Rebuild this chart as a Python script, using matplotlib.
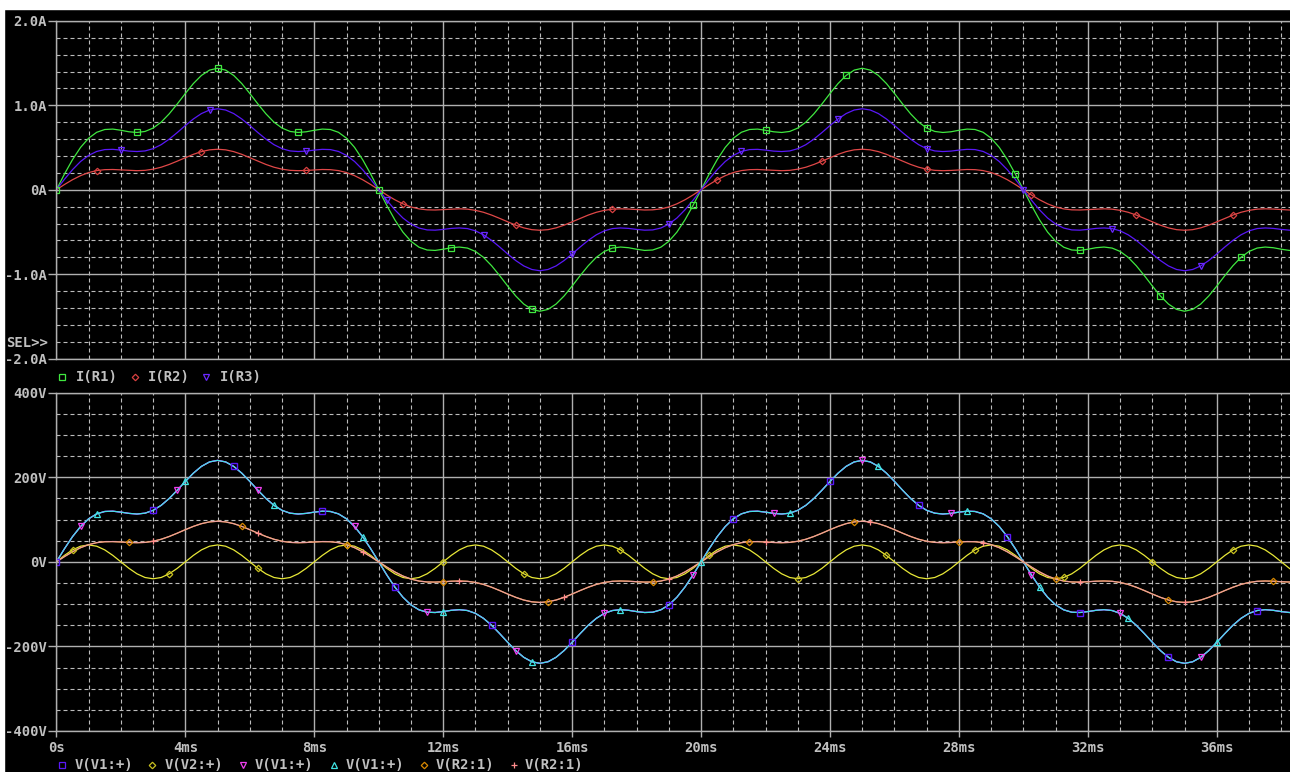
import numpy as np
import matplotlib
matplotlib.use("Agg")
import matplotlib.pyplot as plt
from matplotlib.ticker import MultipleLocator
from matplotlib.lines import Line2D
from matplotlib.patches import Rectangle

# time axis in ms (0.25 ms steps)
t_ms = np.arange(155) * 0.25

# currents (A)
i_r1 = [0.000, 0.186, 0.357, 0.502, 0.611, 0.681, 0.714, 0.719, 0.705, 0.687, 0.679, 0.691, 0.731, 0.801, 0.900, 1.017, 1.141, 1.259, 1.355, 1.418, 1.440,
        1.418, 1.355, 1.259, 1.141, 1.017, 0.900, 0.801, 0.731, 0.691, 0.679, 0.687, 0.705, 0.719, 0.714, 0.681, 0.611, 0.502, 0.357, 0.186, 0.000,
        -0.186, -0.357, -0.502, -0.611, -0.681, -0.714, -0.719, -0.705, -0.687, -0.679, -0.691, -0.731, -0.801, -0.900, -1.017, -1.141, -1.259, -1.355, -1.418, -1.440,
        -1.418, -1.355, -1.259, -1.141, -1.017, -0.900, -0.801, -0.731, -0.691, -0.679, -0.687, -0.705, -0.719, -0.714, -0.681, -0.611, -0.502, -0.357, -0.186, 0.000,
        0.186, 0.357, 0.502, 0.611, 0.681, 0.714, 0.719, 0.705, 0.687, 0.679, 0.691, 0.731, 0.801, 0.900, 1.017, 1.141, 1.259, 1.355, 1.418, 1.440,
        1.418, 1.355, 1.259, 1.141, 1.017, 0.900, 0.801, 0.731, 0.691, 0.679, 0.687, 0.705, 0.719, 0.714, 0.681, 0.611, 0.502, 0.357, 0.186, 0.000,
        -0.186, -0.357, -0.502, -0.611, -0.681, -0.714, -0.719, -0.705, -0.687, -0.679, -0.691, -0.731, -0.801, -0.900, -1.017, -1.141, -1.259, -1.355, -1.418, -1.440,
        -1.418, -1.355, -1.259, -1.141, -1.017, -0.900, -0.801, -0.731, -0.691, -0.679, -0.687, -0.705, -0.719, -0.714]

i_r2 = [0.000, 0.062, 0.119, 0.167, 0.204, 0.227, 0.238, 0.240, 0.235, 0.229, 0.226, 0.230, 0.244, 0.267, 0.300, 0.339, 0.380, 0.420, 0.452, 0.473, 0.480,
        0.473, 0.452, 0.420, 0.380, 0.339, 0.300, 0.267, 0.244, 0.230, 0.226, 0.229, 0.235, 0.240, 0.238, 0.227, 0.204, 0.167, 0.119, 0.062, 0.000,
        -0.062, -0.119, -0.167, -0.204, -0.227, -0.238, -0.240, -0.235, -0.229, -0.226, -0.230, -0.244, -0.267, -0.300, -0.339, -0.380, -0.420, -0.452, -0.473, -0.480,
        -0.473, -0.452, -0.420, -0.380, -0.339, -0.300, -0.267, -0.244, -0.230, -0.226, -0.229, -0.235, -0.240, -0.238, -0.227, -0.204, -0.167, -0.119, -0.062, 0.000,
        0.062, 0.119, 0.167, 0.204, 0.227, 0.238, 0.240, 0.235, 0.229, 0.226, 0.230, 0.244, 0.267, 0.300, 0.339, 0.380, 0.420, 0.452, 0.473, 0.480,
        0.473, 0.452, 0.420, 0.380, 0.339, 0.300, 0.267, 0.244, 0.230, 0.226, 0.229, 0.235, 0.240, 0.238, 0.227, 0.204, 0.167, 0.119, 0.062, 0.000,
        -0.062, -0.119, -0.167, -0.204, -0.227, -0.238, -0.240, -0.235, -0.229, -0.226, -0.230, -0.244, -0.267, -0.300, -0.339, -0.380, -0.420, -0.452, -0.473, -0.480,
        -0.473, -0.452, -0.420, -0.380, -0.339, -0.300, -0.267, -0.244, -0.230, -0.226, -0.229, -0.235, -0.240, -0.238]

i_r3 = [0.000, 0.124, 0.238, 0.335, 0.407, 0.454, 0.476, 0.479, 0.470, 0.458, 0.453, 0.460, 0.487, 0.534, 0.600, 0.678, 0.761, 0.839, 0.903, 0.945, 0.960,
        0.945, 0.903, 0.839, 0.761, 0.678, 0.600, 0.534, 0.487, 0.460, 0.453, 0.458, 0.470, 0.479, 0.476, 0.454, 0.407, 0.335, 0.238, 0.124, 0.000,
        -0.124, -0.238, -0.335, -0.407, -0.454, -0.476, -0.479, -0.470, -0.458, -0.453, -0.460, -0.487, -0.534, -0.600, -0.678, -0.761, -0.839, -0.903, -0.945, -0.960,
        -0.945, -0.903, -0.839, -0.761, -0.678, -0.600, -0.534, -0.487, -0.460, -0.453, -0.458, -0.470, -0.479, -0.476, -0.454, -0.407, -0.335, -0.238, -0.124, 0.000,
        0.124, 0.238, 0.335, 0.407, 0.454, 0.476, 0.479, 0.470, 0.458, 0.453, 0.460, 0.487, 0.534, 0.600, 0.678, 0.761, 0.839, 0.903, 0.945, 0.960,
        0.945, 0.903, 0.839, 0.761, 0.678, 0.600, 0.534, 0.487, 0.460, 0.453, 0.458, 0.470, 0.479, 0.476, 0.454, 0.407, 0.335, 0.238, 0.124, 0.000,
        -0.124, -0.238, -0.335, -0.407, -0.454, -0.476, -0.479, -0.470, -0.458, -0.453, -0.460, -0.487, -0.534, -0.600, -0.678, -0.761, -0.839, -0.903, -0.945, -0.960,
        -0.945, -0.903, -0.839, -0.761, -0.678, -0.600, -0.534, -0.487, -0.460, -0.453, -0.458, -0.470, -0.479, -0.476]

# voltages (V)
v_v1 = [0.0, 31.0, 59.6, 83.6, 101.8, 113.5, 119.1, 119.8, 117.6, 114.6, 113.1, 115.1, 121.8, 133.6, 149.9, 169.5, 190.2, 209.8, 225.8, 236.3, 240.0,
        236.3, 225.8, 209.8, 190.2, 169.5, 149.9, 133.6, 121.8, 115.1, 113.1, 114.6, 117.6, 119.8, 119.1, 113.5, 101.8, 83.6, 59.6, 31.0, 0.0,
        -31.0, -59.6, -83.6, -101.8, -113.5, -119.1, -119.8, -117.6, -114.6, -113.1, -115.1, -121.8, -133.6, -149.9, -169.5, -190.2, -209.8, -225.8, -236.3, -240.0,
        -236.3, -225.8, -209.8, -190.2, -169.5, -149.9, -133.6, -121.8, -115.1, -113.1, -114.6, -117.6, -119.8, -119.1, -113.5, -101.8, -83.6, -59.6, -31.0, 0.0,
        31.0, 59.6, 83.6, 101.8, 113.5, 119.1, 119.8, 117.6, 114.6, 113.1, 115.1, 121.8, 133.6, 149.9, 169.5, 190.2, 209.8, 225.8, 236.3, 240.0,
        236.3, 225.8, 209.8, 190.2, 169.5, 149.9, 133.6, 121.8, 115.1, 113.1, 114.6, 117.6, 119.8, 119.1, 113.5, 101.8, 83.6, 59.6, 31.0, 0.0,
        -31.0, -59.6, -83.6, -101.8, -113.5, -119.1, -119.8, -117.6, -114.6, -113.1, -115.1, -121.8, -133.6, -149.9, -169.5, -190.2, -209.8, -225.8, -236.3, -240.0,
        -236.3, -225.8, -209.8, -190.2, -169.5, -149.9, -133.6, -121.8, -115.1, -113.1, -114.6, -117.6, -119.8, -119.1]

v_v2 = [0.0, 15.3, 28.3, 37.0, 40.0, 37.0, 28.3, 15.3, 0.0, -15.3, -28.3, -37.0, -40.0, -37.0, -28.3, -15.3,
        0.0, 15.3, 28.3, 37.0, 40.0, 37.0, 28.3, 15.3, 0.0, -15.3, -28.3, -37.0, -40.0, -37.0, -28.3, -15.3,
        0.0, 15.3, 28.3, 37.0, 40.0, 37.0, 28.3, 15.3, 0.0, -15.3, -28.3, -37.0, -40.0, -37.0, -28.3, -15.3,
        0.0, 15.3, 28.3, 37.0, 40.0, 37.0, 28.3, 15.3, 0.0, -15.3, -28.3, -37.0, -40.0, -37.0, -28.3, -15.3,
        0.0, 15.3, 28.3, 37.0, 40.0, 37.0, 28.3, 15.3, 0.0, -15.3, -28.3, -37.0, -40.0, -37.0, -28.3, -15.3,
        0.0, 15.3, 28.3, 37.0, 40.0, 37.0, 28.3, 15.3, 0.0, -15.3, -28.3, -37.0, -40.0, -37.0, -28.3, -15.3,
        0.0, 15.3, 28.3, 37.0, 40.0, 37.0, 28.3, 15.3, 0.0, -15.3, -28.3, -37.0, -40.0, -37.0, -28.3, -15.3,
        0.0, 15.3, 28.3, 37.0, 40.0, 37.0, 28.3, 15.3, 0.0, -15.3, -28.3, -37.0, -40.0, -37.0, -28.3, -15.3,
        0.0, 15.3, 28.3, 37.0, 40.0, 37.0, 28.3, 15.3, 0.0, -15.3, -28.3, -37.0, -40.0, -37.0, -28.3, -15.3,
        0.0, 15.3, 28.3, 37.0, 40.0, 37.0, 28.3, 15.3, 0.0, -15.3, -28.3]

v_r2 = [0.0, 12.4, 23.8, 33.5, 40.7, 45.4, 47.6, 47.9, 47.0, 45.8, 45.3, 46.0, 48.7, 53.4, 60.0, 67.8, 76.1, 83.9, 90.3, 94.5, 96.0,
        94.5, 90.3, 83.9, 76.1, 67.8, 60.0, 53.4, 48.7, 46.0, 45.3, 45.8, 47.0, 47.9, 47.6, 45.4, 40.7, 33.5, 23.8, 12.4, 0.0,
        -12.4, -23.8, -33.5, -40.7, -45.4, -47.6, -47.9, -47.0, -45.8, -45.3, -46.0, -48.7, -53.4, -60.0, -67.8, -76.1, -83.9, -90.3, -94.5, -96.0,
        -94.5, -90.3, -83.9, -76.1, -67.8, -60.0, -53.4, -48.7, -46.0, -45.3, -45.8, -47.0, -47.9, -47.6, -45.4, -40.7, -33.5, -23.8, -12.4, 0.0,
        12.4, 23.8, 33.5, 40.7, 45.4, 47.6, 47.9, 47.0, 45.8, 45.3, 46.0, 48.7, 53.4, 60.0, 67.8, 76.1, 83.9, 90.3, 94.5, 96.0,
        94.5, 90.3, 83.9, 76.1, 67.8, 60.0, 53.4, 48.7, 46.0, 45.3, 45.8, 47.0, 47.9, 47.6, 45.4, 40.7, 33.5, 23.8, 12.4, 0.0,
        -12.4, -23.8, -33.5, -40.7, -45.4, -47.6, -47.9, -47.0, -45.8, -45.3, -46.0, -48.7, -53.4, -60.0, -67.8, -76.1, -83.9, -90.3, -94.5, -96.0,
        -94.5, -90.3, -83.9, -76.1, -67.8, -60.0, -53.4, -48.7, -46.0, -45.3, -45.8, -47.0, -47.9, -47.6]

# sample indices where the trace symbols sit
mk_r1 = [0, 10, 20, 30, 40, 49, 59, 69, 79, 88, 98, 108, 119, 127, 137, 147]
mk_r2 = [5, 18, 31, 43, 57, 69, 82, 95, 108, 121, 134, 146]
mk_r3 = [8, 19, 31, 41, 53, 64, 76, 85, 97, 108, 120, 131, 142]
mk_v1a = [0, 12, 22, 33, 42, 54, 64, 76, 84, 96, 107, 118, 127, 138, 149]
mk_v2 = [2, 14, 25, 36, 48, 58, 70, 81, 92, 103, 114, 125, 136, 146]
mk_v1b = [3, 15, 25, 37, 46, 57, 68, 79, 89, 100, 111, 121, 132, 142]
mk_v1c = [5, 16, 27, 38, 48, 59, 70, 80, 91, 102, 113, 122, 133, 144]
mk_r2a = [9, 23, 36, 48, 61, 74, 86, 99, 112, 124, 138, 151]
mk_r2b = [12, 25, 38, 50, 63, 76, 88, 101, 115, 127, 140]

x_ticks = [0, 4, 8, 12, 16, 20, 24, 28, 32, 36]
x_labels = ['0s', '4ms', '8ms', '12ms', '16ms', '20ms', '24ms', '28ms', '32ms', '36ms']
i_ticks = [-2, -1, 0, 1, 2]
i_labels = ['-2.0A', '-1.0A', '0A', '1.0A', '2.0A']
v_ticks = [-400, -200, 0, 200, 400]
v_labels = ['-400V', '-200V', '0V', '200V', '400V']

W, H = 1290, 772
FONT = 'DejaVu Sans Mono'
TXT = '#c0c0c0'
GRID = '#b0b0b0'


def fx(px):
    return px / W


def fy(py):
    return 1 - py / H


fig = plt.figure(figsize=(W / 100, H / 100), dpi=100, facecolor='black')
fig.add_artist(Rectangle((0, 0), fx(4), 1, transform=fig.transFigure, color='white', zorder=0))
fig.add_artist(Rectangle((0, fy(9)), 1, 9 / H, transform=fig.transFigure, color='white', zorder=0))

ax1 = fig.add_axes([fx(56.4), fy(358.5), 1 - fx(56.4), (358.5 - 21) / H])
ax2 = fig.add_axes([fx(56.4), fy(731), 1 - fx(56.4), (731 - 392.7) / H])


def style(ax, yminor):
    ax.set_facecolor('black')
    ax.set_xlim(0, 38.27)
    ax.set_axisbelow(True)
    for s in ax.spines.values():
        s.set_color(GRID)
        s.set_linewidth(1.0)
    ax.spines['right'].set_visible(False)
    ax.xaxis.set_minor_locator(MultipleLocator(1))
    ax.yaxis.set_minor_locator(MultipleLocator(yminor))
    ax.grid(which='major', color=GRID, lw=1.0, ls='-')
    ax.grid(which='minor', color='#bcbcbc', lw=0.8, ls=(0, (3.6, 2.7)))
    ax.tick_params(which='minor', length=0)
    ax.tick_params(which='major', color=GRID, labelcolor=TXT, width=1.0,
                   direction='out', labelsize=10)
    ax.tick_params(axis='y', length=5.8, pad=1)
    for lab in ax.get_xticklabels() + ax.get_yticklabels():
        lab.set_family(FONT)
        lab.set_fontweight('bold')


# upper plot: currents
ax1.plot(t_ms, i_r1, color='#40e840', lw=0.9)
ax1.plot(t_ms, i_r2, color='#e04848', lw=0.9)
ax1.plot(t_ms, i_r3, color='#5a18f8', lw=0.9)
ax1.plot(t_ms, i_r1, ls='none', marker='s', ms=4, mfc='none', mec='#40e840', mew=0.9, markevery=mk_r1)
ax1.plot(t_ms, i_r2, ls='none', marker='D', ms=3.3, mfc='none', mec='#d84040', mew=0.9, markevery=mk_r2)
ax1.plot(t_ms, i_r3, ls='none', marker='v', ms=4.5, mfc='none', mec='#6a28ff', mew=0.9, markevery=mk_r3)
ax1.set_ylim(-2, 2)
ax1.set_xticks(x_ticks)
ax1.set_yticks(i_ticks)
ax1.set_yticklabels(i_labels)
style(ax1, 0.2)
ax1.tick_params(axis='x', length=0, labelbottom=False)

# lower plot: voltages
ax2.plot(t_ms, v_v1, color='#5a18f8', lw=0.9)
ax2.plot(t_ms, v_v2, color='#e8e838', lw=0.9)
ax2.plot(t_ms, v_v1, color='#f040f0', lw=0.9)
ax2.plot(t_ms, v_v1, color='#40e4e4', lw=0.9)
ax2.plot(t_ms, v_r2, color='#d88800', lw=0.9)
ax2.plot(t_ms, v_r2, color='#eca0a0', lw=0.9)
ax2.plot(t_ms, v_v1, ls='none', marker='s', ms=4, mfc='none', mec='#5a18f8', mew=1.0, markevery=mk_v1a)
ax2.plot(t_ms, v_v2, ls='none', marker='D', ms=3.3, mfc='none', mec='#c8c020', mew=0.9, markevery=mk_v2)
ax2.plot(t_ms, v_v1, ls='none', marker='v', ms=4.5, mfc='none', mec='#f040f0', mew=0.9, markevery=mk_v1b)
ax2.plot(t_ms, v_v1, ls='none', marker='^', ms=4.5, mfc='none', mec='#40e4e4', mew=0.9, markevery=mk_v1c)
ax2.plot(t_ms, v_r2, ls='none', marker='D', ms=3.3, mfc='none', mec='#d88800', mew=0.9, markevery=mk_r2a)
ax2.plot(t_ms, v_r2, ls='none', marker='+', ms=5, mec='#ff8c8c', mew=0.9, markevery=mk_r2b)
ax2.set_ylim(-400, 400)
ax2.set_xticks(x_ticks)
ax2.set_xticklabels(x_labels)
ax2.set_yticks(v_ticks)
ax2.set_yticklabels(v_labels)
style(ax2, 50)
ax2.tick_params(axis='x', length=4.3, pad=3)

fig.text(fx(6), fy(343), 'SEL>>', color=TXT, family=FONT, fontweight='bold',
         fontsize=10, ha='left', va='center')

# legends drawn as symbol + text rows
top_legend = [(62, 76, 's', '#40e840', 'I(R1)'),
              (135, 148, 'D', '#d84040', 'I(R2)'),
              (206, 220, 'v', '#6a28ff', 'I(R3)')]
bottom_legend = [(62, 75, 's', '#5a18f8', 'V(V1:+)'),
                 (152, 165, 'D', '#c8c020', 'V(V2:+)'),
                 (243, 255, 'v', '#f040f0', 'V(V1:+)'),
                 (334, 346, '^', '#40e4e4', 'V(V1:+)'),
                 (424, 436, 'D', '#d88800', 'V(R2:1)'),
                 (514, 525, '+', '#ff8c8c', 'V(R2:1)')]

for rows, ypx in ((top_legend, 377), (bottom_legend, 765)):
    for xm, xt, mk, col, lab in rows:
        ms = 3.3 if mk == 'D' else 4
        fig.add_artist(Line2D([fx(xm)], [fy(ypx)], transform=fig.transFigure, ls='none',
                              marker=mk, ms=ms, mfc='none', mec=col, mew=0.9))
        fig.text(fx(xt), fy(ypx), lab, color=TXT, family=FONT, fontweight='bold',
                 fontsize=10, ha='left', va='center')

fig.savefig('out.png', dpi=100, facecolor=fig.get_facecolor())
